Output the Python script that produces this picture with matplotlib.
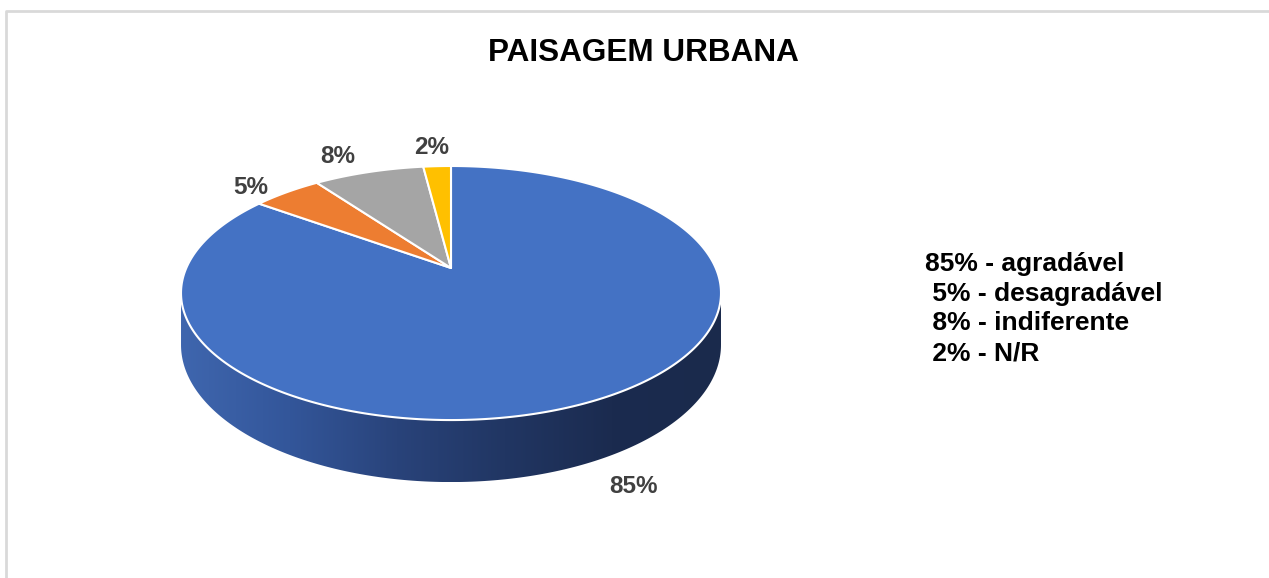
import numpy as np
import matplotlib.pyplot as plt
from matplotlib.patches import Polygon
from matplotlib.colors import LinearSegmentedColormap

plt.rcParams['font.family'] = ['Liberation Sans', 'DejaVu Sans']

# dados do gráfico
categorias = ['agradável', 'desagradável', 'indiferente', 'N/R']
valores = [85, 5, 8, 2]
cores = ['#4472C4', '#ED7D31', '#A5A5A5', '#FFC000']
titulo = 'PAISAGEM URBANA'

# geometria da pizza 3D (pixels)
W, H = 1269, 578
cx, cy = 451, 268          # centro (ápice das fatias)
A, B = 264.7, 122.1        # semi-eixos antes da perspectiva
k = 0.197                  # fator de perspectiva
prof = 49.8                # espessura


def proj(t, r=1.0, z=0.0):
    # t em graus (0 = direita, 90 = fundo); z = profundidade para baixo
    u = r * np.cos(np.radians(t))
    v = r * np.sin(np.radians(t))
    w = 1 + k * v
    return cx + A * u / w, cy - B * v / w + z * prof / w


fig = plt.figure(figsize=(W / 100, H / 100), dpi=100)
ax = fig.add_axes([0, 0, 1, 1])
ax.set_xlim(0, W)
ax.set_ylim(H, 0)
ax.axis('off')

# moldura da área do gráfico
ax.plot([6, 6, W + 5], [H + 5, 10.5, 10.5], color='#D9D9D9', lw=2, zorder=1)

# lateral visível (frente), com gradiente horizontal
t_esq = 180 + np.degrees(np.arcsin(k))
t_dir = 360 - np.degrees(np.arcsin(k))
ts = np.linspace(t_esq, t_dir, 200)
topo = np.array([proj(t) for t in ts])
base = np.array([proj(t, z=1.0) for t in ts[::-1]])
lateral = Polygon(np.vstack([topo, base]), closed=True, facecolor='none',
                  edgecolor='none', zorder=2)
ax.add_patch(lateral)
grad = LinearSegmentedColormap.from_list(
    'lado', ['#3F66AE', '#33569A', '#29437A', '#213663', '#1B2B4F', '#1A2A4C'])
img = ax.imshow(np.linspace(0, 1, 256)[None, :], cmap=grad, aspect='auto',
                extent=(topo[:, 0].min(), topo[:, 0].max(), base[:, 1].max(),
                        topo[:, 1].min()), zorder=2)
img.set_clip_path(lateral)
ax.set_xlim(0, W)
ax.set_ylim(H, 0)

# fatias do topo, no sentido horário a partir das 12 horas
fr = np.cumsum([0] + valores) / sum(valores)
for i, val in enumerate(valores):
    a0 = 90 - 360 * fr[i]
    a1 = 90 - 360 * fr[i + 1]
    n = max(4, int(abs(a1 - a0) * 2))
    arco = [proj(t) for t in np.linspace(a0, a1, n)]
    pts = np.vstack([[cx, cy], arco])
    ax.add_patch(Polygon(pts, closed=True, facecolor=cores[i],
                         edgecolor='white', lw=1.5, joinstyle='round', zorder=3))

    # rótulo de dados fora da fatia
    meio = (a0 + a1) / 2
    ex, ey = proj(meio)
    if np.sin(np.radians(meio)) < 0:
        ey += prof / (1 + k * np.sin(np.radians(meio)))
    dx, dy = ex - cx, ey - cy
    nrm = np.hypot(dx, dy)
    dx, dy = dx / nrm, dy / nrm
    ha = 'right' if dx < -0.3 else ('left' if dx > 0.3 else 'center')
    va = 'baseline' if dy < -0.5 else ('top' if dy > 0.5 else 'center')
    gy = 12 if dy < 0 else 19
    ax.text(ex + dx * 20 - 3 * (ha == 'center'), ey + dy * gy, f'{val}%',
            ha=ha, va=va, fontsize=17.5, fontweight='bold', color='#404040',
            zorder=4)

ax.text(643.5, 61, titulo, ha='center', va='baseline', fontsize=22.7,
        fontweight='bold', color='black')

# legenda em texto
linhas = [f'{v}% - {c}' if v >= 10 else f' {v}% - {c}'
          for v, c in zip(valores, categorias)]
ax.text(925, 252, '\n'.join(linhas), ha='left', va='top', fontsize=19,
        fontweight='bold', color='black', linespacing=1.30)

fig.savefig('out.png', dpi=100)
